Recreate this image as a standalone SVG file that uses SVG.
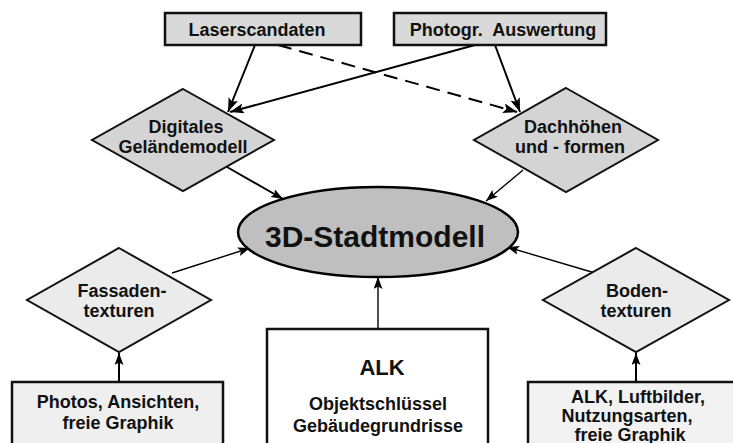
<svg xmlns="http://www.w3.org/2000/svg" width="733" height="443" viewBox="0 0 733 443">
<defs>
<style>
text{font-family:"Liberation Sans",Arial,sans-serif;font-weight:bold;fill:#111;text-anchor:middle;font-size:18px}
.big{font-size:30px}
.mid{font-size:22px}
.box{stroke:#111;stroke-width:2.5}
.dia{stroke:#111;stroke-width:2}
.c{fill:none;stroke:#000;stroke-width:2}
.t{fill:none;stroke:#000;stroke-width:1.4}
</style>
<marker id="ah" viewBox="0 0 14 10" refX="14" refY="5" markerWidth="14" markerHeight="10" markerUnits="userSpaceOnUse" orient="auto">
<path d="M0,0 L14,5 L0,10 L3,5 z" fill="#000"/>
</marker>
<marker id="ahs" viewBox="0 0 12 9" refX="12" refY="4.5" markerWidth="12" markerHeight="9" markerUnits="userSpaceOnUse" orient="auto">
<path d="M0,0 L12,4.5 L0,9 L2.5,4.5 z" fill="#000"/>
</marker>
</defs>
<rect width="733" height="443" fill="#fff"/>
<g id="connectors">
<line class="c" x1="255" y1="45" x2="228" y2="112" marker-end="url(#ah)"/>
<line class="c" x1="475" y1="45" x2="230" y2="112" marker-end="url(#ah)"/>
<line class="c" x1="495" y1="45" x2="520" y2="112" marker-end="url(#ah)"/>
<line class="c" x1="278" y1="45" x2="517" y2="112" stroke-dasharray="14,8" marker-end="url(#ah)"/>
<line class="c" x1="227" y1="167" x2="283" y2="199" marker-end="url(#ahs)"/>
<line class="t" x1="523" y1="170" x2="486" y2="201" marker-end="url(#ahs)"/>
<line class="t" x1="172" y1="273" x2="250" y2="248" marker-end="url(#ahs)"/>
<line class="t" x1="595" y1="273" x2="507" y2="247" marker-end="url(#ahs)"/>
<line class="t" x1="378" y1="329" x2="378" y2="277" marker-end="url(#ahs)"/>
<line class="c" x1="119" y1="382" x2="119" y2="353" marker-end="url(#ahs)"/>
<line class="c" x1="636" y1="382" x2="636" y2="353" marker-end="url(#ahs)"/>
</g>
<g id="laserscandaten">
<rect class="box" x="165" y="13" width="196" height="32" fill="#d9d9d9"/>
<text x="257" y="36">Laserscandaten</text>
</g>
<g id="photogr">
<rect class="box" x="394" y="13" width="212" height="32" fill="#d9d9d9"/>
<text x="503" y="36" xml:space="preserve">Photogr.  Auswertung</text>
</g>
<g id="dgm">
<polygon class="dia" points="183,89 274,140 183,191 92,140" fill="#d4d4d4"/>
<text x="186" y="133">Digitales</text>
<text x="183" y="153">Geländemodell</text>
</g>
<g id="dach">
<polygon class="dia" points="566,88 658,140 566,192 474,140" fill="#d4d4d4"/>
<text x="573" y="133">Dachhöhen</text>
<text x="570" y="153">und - formen</text>
</g>
<g id="stadtmodell">
<ellipse cx="378" cy="232" rx="140" ry="45" fill="#bfbfbf" stroke="#000" stroke-width="2.5"/>
<text class="big" x="375" y="247">3D-Stadtmodell</text>
</g>
<g id="fassaden">
<polygon class="dia" points="119,248 211,300 119,352 27,300" fill="#ebebeb"/>
<text x="122" y="297">Fassaden-</text>
<text x="119" y="317">texturen</text>
</g>
<g id="boden">
<polygon class="dia" points="636,248 729,300 636,352 543,300" fill="#ebebeb"/>
<text x="637" y="297">Boden-</text>
<text x="636" y="317">texturen</text>
</g>
<g id="photos">
<rect class="box" x="12" y="382" width="211" height="80" fill="#efefef"/>
<text x="118" y="408">Photos, Ansichten,</text>
<text x="118" y="429">freie Graphik</text>
</g>
<g id="alk">
<rect class="box" x="267" y="329" width="221" height="130" fill="#fff"/>
<text class="mid" x="382" y="375">ALK</text>
<text x="378" y="410">Objektschlüssel</text>
<text x="378" y="432">Gebäudegrundrisse</text>
</g>
<g id="bodenquellen">
<rect class="box" x="528" y="382" width="220" height="80" fill="#f2f2f2"/>
<text x="638" y="403">ALK, Luftbilder,</text>
<text x="627" y="422">Nutzungsarten,</text>
<text x="630" y="441">freie Graphik</text>
</g>
</svg>
